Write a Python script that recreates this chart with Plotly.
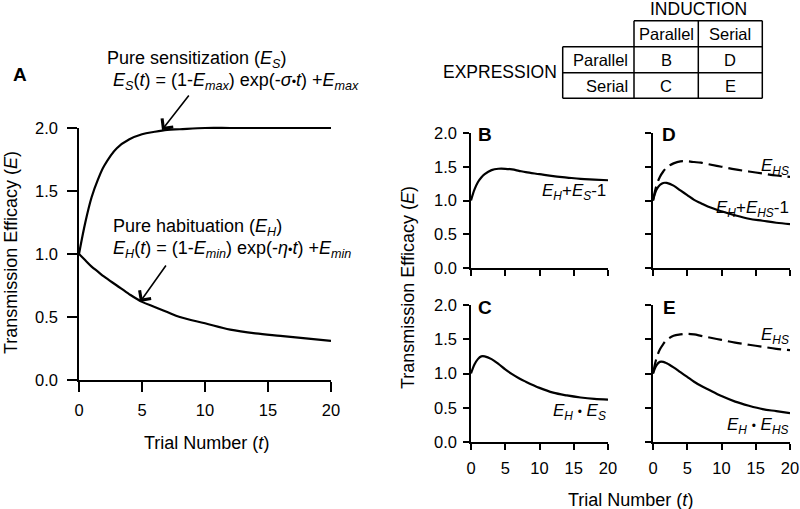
import plotly.graph_objects as go

W, H = 800, 509

# ---------------- data ----------------
trial = [0, 0.5, 1, 1.5, 2, 3, 4, 5, 6, 7, 8, 10, 12, 14, 16, 18, 20]

# Panel A
E_S = [1.0, 1.25, 1.45, 1.59, 1.70, 1.84, 1.91, 1.95, 1.97, 1.985, 1.99, 2.0, 2.0, 2.0, 2.0, 2.0, 2.0]
E_H = [1.0, 0.95, 0.90, 0.86, 0.82, 0.75, 0.68, 0.62, 0.58, 0.54, 0.50, 0.45, 0.40, 0.37, 0.35, 0.33, 0.31]
# Panel B  (E_H + E_S - 1)
B_sum = [1.0, 1.16, 1.27, 1.34, 1.39, 1.45, 1.47, 1.47, 1.46, 1.44, 1.42, 1.39, 1.36, 1.34, 1.32, 1.31, 1.30]
# Panel C  (E_H * E_S)
C_prod = [1.0, 1.13, 1.21, 1.25, 1.25, 1.21, 1.14, 1.06, 0.99, 0.93, 0.88, 0.79, 0.72, 0.68, 0.65, 0.63, 0.62]
# Panel D
D_sum = [1.0, 1.16, 1.23, 1.26, 1.26, 1.22, 1.15, 1.08, 1.01, 0.96, 0.91, 0.84, 0.78, 0.73, 0.70, 0.67, 0.65]
D_EHS = [1.0, 1.22, 1.35, 1.43, 1.49, 1.55, 1.58, 1.58, 1.57, 1.56, 1.54, 1.50, 1.46, 1.43, 1.40, 1.37, 1.35]
# Panel E
E_prod = [1.0, 1.12, 1.17, 1.17, 1.15, 1.09, 1.02, 0.95, 0.88, 0.82, 0.77, 0.67, 0.59, 0.53, 0.48, 0.45, 0.42]
E_EHS = [1.0, 1.22, 1.35, 1.43, 1.49, 1.55, 1.57, 1.58, 1.57, 1.55, 1.53, 1.49, 1.45, 1.42, 1.39, 1.36, 1.34]

x_ticks = [0, 5, 10, 15, 20]
x_tick_text = ["0", "5", "10", "15", "20"]
y_ticks = [0, 0.5, 1.0, 1.5, 2.0]
y_tick_text = ["0.0", "0.5", "1.0", "1.5", "2.0"]

induction_modes = ["Parallel", "Serial"]
expression_modes = ["Parallel", "Serial"]
panel_grid = [["B", "D"], ["C", "E"]]

# ---------------- helpers ----------------
FONT = "Liberation Sans, Arial, sans-serif"
DOT = '<span style="font-size:70%">•</span>'


def px(x):
    return x / W


def py(y):
    return 1 - y / H


fig = go.Figure()

solid = dict(color="black", width=2.2)
dashed = dict(color="black", width=2.2, dash="14px,6px")

traces = [
    ("x6", "y6", E_S, solid),
    ("x6", "y6", E_H, solid),
    ("x2", "y2", B_sum, solid),
    ("x3", "y3", D_EHS, dashed),
    ("x3", "y3", D_sum, solid),
    ("x4", "y4", C_prod, solid),
    ("x5", "y5", E_EHS, dashed),
    ("x5", "y5", E_prod, solid),
]
for xa, ya, vals, ln in traces:
    fig.add_trace(go.Scatter(x=trial, y=vals, xaxis=xa, yaxis=ya, mode="lines",
                             line=dict(shape="spline", smoothing=1.0, **ln),
                             cliponaxis=False, hoverinfo="skip", showlegend=False))
# empty trace so that panel A's visible axes are drawn
fig.add_trace(go.Scatter(x=[], y=[], xaxis="x", yaxis="y", mode="lines",
                         hoverinfo="skip", showlegend=False))

# panel geometry in pixels: (left, right, top, bottom, show x labels, show y labels, ticklen)
panels = {
    "": (79, 331, 128, 380, True, True, 10),
    "2": (471, 608, 133, 268, False, True, 6),
    "3": (653, 790, 133, 268, False, False, 6),
    "4": (471, 608, 305, 442, True, True, 6),
    "5": (653, 790, 305, 442, True, False, 6),
}

layout = dict(width=W, height=H, margin=dict(l=0, r=0, t=0, b=0, autoexpand=False),
              paper_bgcolor="white", plot_bgcolor="rgba(0,0,0,0)",
              font=dict(family=FONT, color="black", size=17), showlegend=False)

for k, (l, r, t, b, showx, showy, tl) in panels.items():
    common = dict(showline=True, linecolor="black", linewidth=1.5, ticks="outside",
                  tickcolor="black", tickwidth=1.5, ticklen=tl, showgrid=False,
                  zeroline=False, fixedrange=True, automargin=False,
                  tickfont=dict(family=FONT, size=16.5, color="black"))
    layout["xaxis" + k] = dict(domain=[px(l), px(r)], range=[0, 20], tickvals=x_ticks,
                               ticktext=x_tick_text, showticklabels=showx,
                               anchor="y" + k, ticklabelstandoff=4, **common)
    layout["yaxis" + k] = dict(domain=[py(b), py(t)], range=[0, 2], tickvals=y_ticks,
                               ticktext=y_tick_text, showticklabels=showy,
                               anchor="x" + k, ticklabelstandoff=6 if k == "" else 3,
                               **common)

# hidden, slightly taller twin of panel A's axes so the curve at E = 2 is not clipped
A_l, A_r, A_t, A_b = 79, 331, 128, 380
pad = 8
ext = 2.0 * (A_b - A_t + pad) / (A_b - A_t)
layout["xaxis6"] = dict(domain=[px(A_l), px(A_r)], range=[0, 20], visible=False,
                        anchor="y6", fixedrange=True, automargin=False)
layout["yaxis6"] = dict(domain=[py(A_b), py(A_t - pad)], range=[0, ext], visible=False,
                        anchor="x6", fixedrange=True, automargin=False)

fig.update_layout(**layout)

ann = []


def text(x, y, s, size=16, xanchor="center", yanchor="middle", angle=0):
    ann.append(dict(x=px(x), y=py(y), xref="paper", yref="paper", text=s, showarrow=False,
                    xanchor=xanchor, yanchor=yanchor, textangle=angle, borderpad=0,
                    font=dict(family=FONT, size=size, color="black")))


# panel letters
text(20, 75, "<b>A</b>", 19)
text(485, 134, "<b>B</b>", 19)
text(669, 134, "<b>D</b>", 19)
text(485, 307, "<b>C</b>", 19)
text(669, 307, "<b>E</b>", 19)

# axis titles
text(11, 253, "Transmission Efficacy (<i>E</i>)", 18, angle=-90)
text(408, 288, "Transmission Efficacy (<i>E</i>)", 18, angle=-90)
text(206, 443, "Trial Number (<i>t</i>)", 18)
text(630, 500, "Trial Number (<i>t</i>)", 18)

# panel A equations
text(106, 59, "Pure sensitization (<i>E</i><sub><i>S</i></sub>)", 18, xanchor="left")
text(112, 81, "<i>E</i><sub><i>S</i></sub>(<i>t</i>) = (1-<i>E</i><sub><i>max</i></sub>) "
     "exp(-<i>σ</i>" + DOT + "<i>t</i>) +<i>E</i><sub><i>max</i></sub>", 18, xanchor="left")
text(112, 227, "Pure habituation (<i>E</i><sub><i>H</i></sub>)", 18, xanchor="left")
text(112, 249, "<i>E</i><sub><i>H</i></sub>(<i>t</i>) = (1-<i>E</i><sub><i>min</i></sub>) "
     "exp(-<i>η</i>" + DOT + "<i>t</i>) +<i>E</i><sub><i>min</i></sub>", 18, xanchor="left")

# curve labels B-E
text(607, 192, "<i>E</i><sub><i>H</i></sub>+<i>E</i><sub><i>S</i></sub>-1", 17, xanchor="right")
text(790, 167, "<i>E</i><sub><i>HS</i></sub>", 17, xanchor="right")
text(790, 209, "<i>E</i><sub><i>H</i></sub>+<i>E</i><sub><i>HS</i></sub>-1", 17, xanchor="right")
text(607, 412, "<i>E</i><sub><i>H</i></sub> " + DOT + " <i>E</i><sub><i>S</i></sub>", 17, xanchor="right")
text(790, 336, "<i>E</i><sub><i>HS</i></sub>", 17, xanchor="right")
text(790, 426, "<i>E</i><sub><i>H</i></sub> " + DOT + " <i>E</i><sub><i>HS</i></sub>", 17, xanchor="right")

# arrows in panel A (tail pixel -> head pixel)
for (x0, y0, x1, y1) in [(190, 94, 162, 130), (167, 264, 140, 302)]:
    ann.append(dict(x=px(x1), y=py(y1), ax=x0 - x1, ay=y0 - y1, xref="paper", yref="paper",
                    axref="pixel", ayref="pixel", text="", showarrow=True, arrowhead=4,
                    arrowsize=1.7, arrowwidth=1.6, arrowcolor="black"))

# table
col_x = [634, 698.3, 762.3]
row_y = [20.7, 46.7, 72.7, 98.3]
left_x = 562.7
text((col_x[0] + col_x[2]) / 2, 9, "INDUCTION", 17.5)
text(558, 72, "EXPRESSION", 17.5, xanchor="right")
for j, m in enumerate(induction_modes):
    text((col_x[j] + col_x[j + 1]) / 2, (row_y[0] + row_y[1]) / 2, m, 16.5)
for i, m in enumerate(expression_modes):
    text(629, (row_y[i + 1] + row_y[i + 2]) / 2, m, 16.5, xanchor="right")
    for j in range(2):
        text((col_x[j] + col_x[j + 1]) / 2, (row_y[i + 1] + row_y[i + 2]) / 2,
             panel_grid[i][j], 16.5)

shapes = []


def seg(x0, y0, x1, y1):
    shapes.append(dict(type="line", xref="paper", yref="paper", x0=px(x0), y0=py(y0),
                       x1=px(x1), y1=py(y1), line=dict(color="black", width=1.5)))


seg(col_x[0], row_y[0], col_x[2], row_y[0])
for yy in row_y[1:]:
    seg(left_x, yy, col_x[2], yy)
seg(left_x, row_y[1], left_x, row_y[3])
for xx in col_x:
    seg(xx, row_y[0], xx, row_y[3])

fig.update_layout(annotations=ann, shapes=shapes)
fig.write_html("out.html", config={"displayModeBar": False},
               post_script="document.body.style.margin='0';document.body.style.padding='0';")
